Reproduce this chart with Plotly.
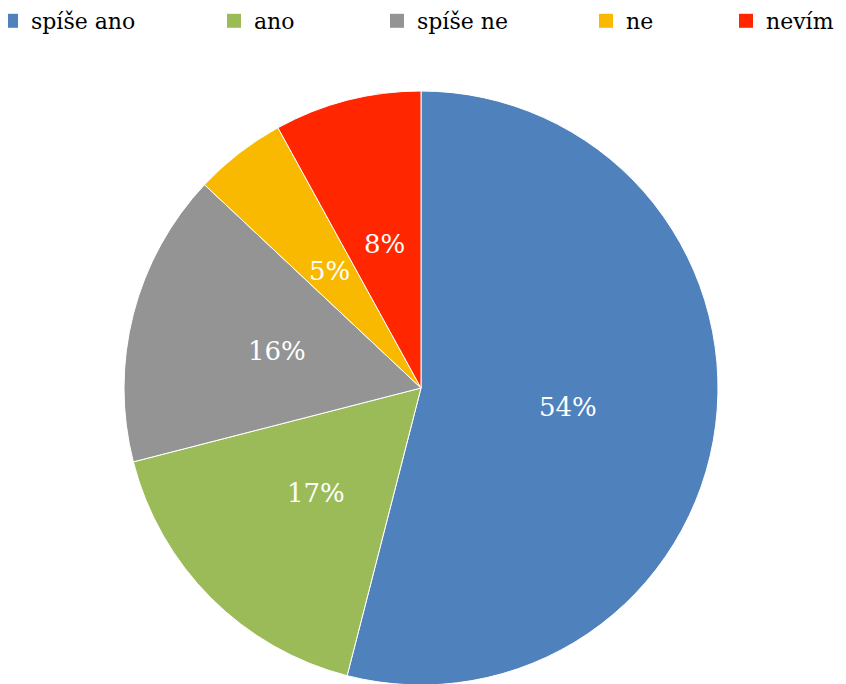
import math
import plotly.graph_objects as go

# answer categories and their shares (percent)
labels = ["spíše ano", "ano", "spíše ne", "ne", "nevím"]
values = [54, 17, 16, 5, 8]
colors = ["#4F81BD", "#9BBB59", "#949494", "#F8B900", "#FF2600"]

# left edge (px) of each legend square, the reference spaces them unevenly
# (last one nudged left so the wider fallback font is not cut off)
legend_x_px = [11, 234, 397, 606, 746]

# the page body adds an 8px margin, so work in paper pixels shifted by 8;
# the paper is taller than the window so the pie can run off the bottom
OFF = 8
W, H = 846 - OFF, 700
FONT = "DejaVu Serif"  # the only serif face that actually renders here

fig = go.Figure()

# pie: centre (421, 388), radius ~297 in window pixels
cx, cy, r = 421 - OFF, 388 - OFF, 297
fig.add_trace(go.Pie(
    labels=labels,
    values=values,
    sort=False,
    direction="clockwise",
    rotation=0,
    marker=dict(colors=colors, line=dict(color="white", width=1)),
    textinfo="none",
    hoverinfo="label+percent",
    showlegend=False,
    domain=dict(x=[(cx - r) / W, (cx + r) / W],
                y=[1 - (cy + r) / H, 1 - (cy - r) / H]),
))

# percentage labels at half the radius along each slice bisector
total = sum(values)
cum = 0
for v in values:
    a = 2 * math.pi * (cum + v / 2) / total
    cum += v
    px = cx + 0.5 * r * math.sin(a)
    py = cy - 0.5 * r * math.cos(a)
    fig.add_annotation(
        x=px / W, y=1 - py / H, xref="paper", yref="paper",
        text=f"{round(100 * v / total)}%", showarrow=False,
        xanchor="center", yanchor="middle",
        font=dict(family=FONT, size=26, color="white"),
    )

# one legend per entry so each can sit where it does in the reference
for i, (lab, col) in enumerate(zip(labels, colors)):
    leg = "legend" if i == 0 else f"legend{i + 1}"
    fig.add_trace(go.Scatter(
        x=[None], y=[None], mode="markers", name=lab,
        marker=dict(symbol="square", size=14, color=col),
        legend=leg, showlegend=True, hoverinfo="skip",
    ))
    fig.update_layout({leg: dict(
        x=(legend_x_px[i] - OFF - 20) / W, xanchor="left",
        y=1 + 8 / H, yanchor="top",
        orientation="h",
        font=dict(family=FONT, size=22, color="black"),
        bgcolor="rgba(0,0,0,0)", borderwidth=0,
        itemwidth=30,
    )})

fig.update_layout(
    width=W, height=H,
    margin=dict(l=0, r=0, t=0, b=0, autoexpand=False),
    paper_bgcolor="white", plot_bgcolor="white",
    xaxis=dict(visible=False), yaxis=dict(visible=False),
)

fig.write_html("out.html")
